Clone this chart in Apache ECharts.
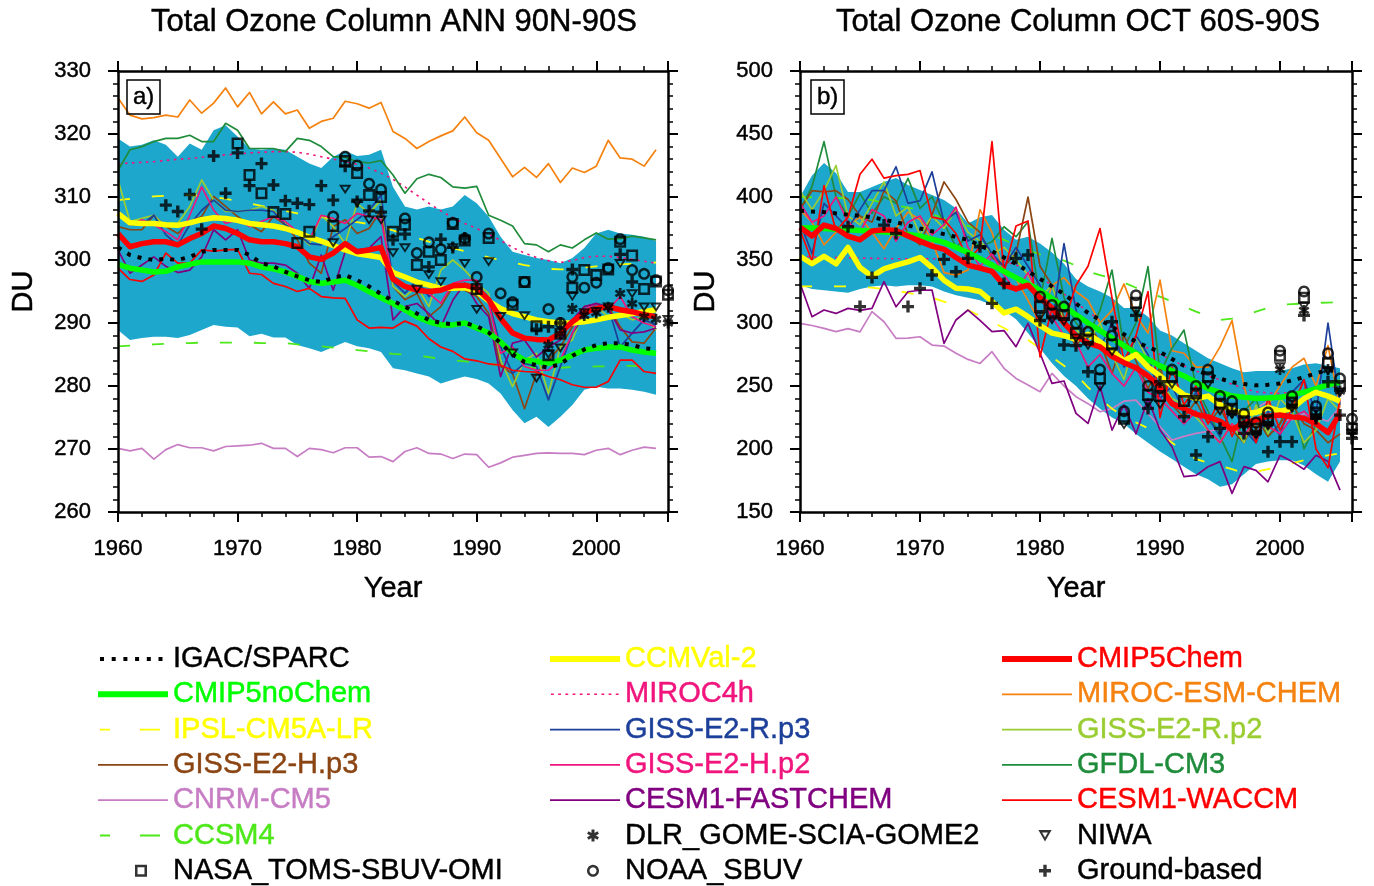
<!DOCTYPE html>
<html><head><meta charset="utf-8">
<script src="https://cdn.jsdelivr.net/npm/echarts@6/dist/echarts.min.js"></script>
<style>html,body{margin:0;padding:0;background:#fff}#c{width:1374px;height:886px}</style>
</head><body><div id="c"></div>
<script>
// ---------------- DATA ----------------
const years = [1960,1961,1962,1963,1964,1965,1966,1967,1968,1969,1970,1971,1972,1973,1974,1975,1976,1977,1978,1979,1980,1981,1982,1983,1984,1985,1986,1987,1988,1989,1990,1991,1992,1993,1994,1995,1996,1997,1998,1999,2000,2001,2002,2003,2004,2005];

// Panel a) ANN 90N-90S
const A_upper = [319.3,318.0,318.3,319.0,318.3,316.4,318.5,317.5,320.6,321.4,319.6,317.7,317.5,317.7,317.5,316.4,315.3,314.6,316.4,317.3,316.5,316.7,317.5,311.6,308.5,308.0,308.5,308.0,308.5,310.3,309.0,306.9,303.7,301.3,300.8,300.3,300.0,299.5,300.3,301.9,304.2,304.8,304.2,304.0,303.7,303.0];
const A_lower = [288.9,287.3,287.6,287.8,287.8,287.6,288.1,288.9,289.7,289.4,289.3,287.9,288.3,287.7,287.7,286.5,286.0,285.4,286.2,287.0,286.3,286.0,285.4,282.8,282.5,282.0,281.5,280.4,281.0,281.5,281.1,280.4,278.8,276.2,274.1,275.1,273.5,275.1,277.0,279.4,279.9,279.6,279.6,279.4,279.1,278.6];
const A_chem = [304.2,302.1,302.6,302.9,302.9,302.4,303.4,304.2,305.4,305.0,304.2,303.2,302.9,302.9,302.6,302.1,300.5,300.1,301.1,302.6,301.3,301.6,302.0,297.0,295.8,295.2,295.0,295.2,295.9,296.0,295.5,293.7,290.7,288.4,287.6,287.4,287.3,288.4,290.2,291.6,292.3,292.6,292.1,291.8,291.3,291.0];
const A_ccmval = [307.4,305.9,305.8,305.8,305.6,305.5,305.9,306.4,306.7,306.6,306.3,305.8,305.6,305.4,305.0,304.4,303.6,303.0,302.3,301.6,301.0,300.7,300.4,298.0,297.3,296.5,296.0,295.5,295.5,295.6,295.0,293.5,292.3,291.5,291.0,290.5,290.2,290.0,290.0,290.2,290.5,290.9,291.2,291.5,291.8,292.1];
const A_nochem = [299.3,298.7,298.4,298.1,298.2,298.9,299.3,299.7,299.7,299.7,299.7,299.5,298.9,298.6,298.1,297.4,296.6,296.3,296.5,296.8,296.0,295.0,294.0,293.1,292.1,291.0,290.2,289.7,289.7,290.0,289.2,288.4,287.0,285.2,284.1,283.9,283.6,284.1,284.9,285.7,286.0,286.2,286.2,285.7,285.4,285.2];
const A_igac = [302.0,300.8,300.3,300.0,300.2,300.0,300.5,301.3,301.6,301.6,301.6,300.8,299.5,299.0,298.1,297.4,296.8,296.5,297.2,297.6,296.8,295.8,294.6,293.5,292.6,291.5,290.5,290.0,289.8,290.0,289.5,288.5,286.8,285.0,283.8,283.3,282.9,283.5,284.8,285.8,286.5,286.8,286.8,286.5,286.0,285.8];
const A_miroc4h = [315.3,315.4,315.5,315.6,315.8,316.0,316.1,316.3,316.5,316.7,316.8,317.0,317.1,317.2,317.2,317.1,316.8,316.4,316.0,315.6,315.2,314.6,313.8,312.8,311.6,310.3,309.0,307.8,306.7,305.8,305.0,304.1,303.1,302.0,301.1,300.4,299.9,299.6,299.9,300.4,300.6,300.6,300.4,300.1,299.8,299.5];
const A_mirocesm = [325.7,323.0,322.4,322.6,323.0,322.7,325.4,323.3,324.9,327.3,324.3,326.6,323.2,325.1,323.2,323.8,320.9,322.0,322.5,325.2,324.8,324.1,325.0,320.4,319.3,317.7,318.8,319.7,320.5,322.7,320.2,319.0,316.1,313.2,314.7,313.1,315.3,312.3,314.6,313.9,314.9,319.0,316.2,316.0,314.9,317.5];
const A_gfdl = [314.2,317.5,318.0,318.8,319.3,319.3,319.8,318.8,318.8,321.7,320.6,317.7,317.7,317.7,317.2,319.3,319.0,318.0,316.4,316.3,315.6,315.4,315.8,313.5,310.6,312.9,313.6,313.1,311.6,311.4,311.7,307.1,306.3,305.4,302.6,302.4,301.3,302.4,301.9,303.2,304.3,303.3,303.4,303.8,303.5,303.2];
const A_cnrm = [270.1,269.7,270.1,268.4,269.9,270.7,270.2,270.2,269.7,270.4,270.5,270.6,270.9,270.1,270.1,268.8,270.1,269.9,269.4,270.2,270.2,268.7,268.8,268.0,269.6,270.2,269.3,269.2,268.5,269.2,269.1,267.1,267.8,268.7,269.0,269.3,269.4,269.3,269.3,269.1,269.8,270.1,269.1,269.8,270.3,270.1];
const A_ccsm4 = [286.3,286.4,286.5,286.6,286.7,286.8,286.8,286.9,286.9,286.9,286.9,286.9,286.8,286.8,286.8,286.6,286.5,286.3,286.1,285.9,285.7,285.5,285.3,285.1,285.0,284.8,284.6,284.3,284.1,283.9,283.7,283.5,283.3,283.1,283.0,282.9,282.8,282.9,283.0,283.0,283.1,283.1,283.2,283.2,283.1,283.1];
const A_ipsl = [309.5,309.7,309.9,310.1,310.2,310.3,310.3,310.2,310.0,309.7,309.4,309.0,308.6,308.2,307.8,307.4,307.1,306.8,306.5,306.2,306.0,305.7,305.2,304.7,304.1,303.5,302.9,302.4,301.9,301.4,300.9,300.4,300.0,299.6,299.2,298.9,298.6,298.5,298.6,298.8,299.0,299.2,299.3,299.4,299.5,299.6];
const A_gissRp3 = [307.9,305.6,305.6,307.1,304.0,302.4,305.6,307.9,309.5,307.9,307.7,307.9,307.9,307.7,305.6,304.2,302.6,302.4,303.7,305.0,306.4,307.9,310.3,296.6,294.7,296.8,294.2,295.8,295.2,296.3,294.7,293.6,286.2,282.0,283.6,283.1,277.8,283.1,288.4,291.0,293.1,292.6,286.2,288.4,290.5,289.7];
const A_gissRp2 = [312.7,306.1,306.6,307.1,305.3,305.8,308.5,312.7,309.5,307.7,307.7,307.9,308.5,307.9,305.8,304.2,302.4,307.1,305.3,302.6,309.0,307.4,309.5,295.8,294.2,295.8,292.6,298.4,300.0,298.4,296.3,294.7,284.1,279.9,284.1,285.2,278.8,286.2,287.3,292.1,292.6,291.0,291.5,290.5,291.0,288.9];
const A_gissHp3 = [305.3,304.8,304.8,307.1,305.3,304.2,306.1,306.9,310.1,308.5,306.9,305.6,304.5,306.9,305.6,303.2,299.5,297.9,305.3,306.4,304.2,305.0,307.9,295.8,293.7,294.7,291.0,292.6,295.8,295.2,294.2,291.5,283.1,282.0,276.4,282.0,284.1,286.2,289.4,292.6,293.1,292.6,289.4,287.0,286.8,289.2];
const A_gissHp2 = [307.4,305.6,306.4,305.6,304.5,303.2,307.1,311.6,307.9,305.8,306.4,305.3,306.1,306.9,306.1,304.5,303.2,307.1,306.6,305.8,307.4,306.9,306.4,296.8,295.8,295.8,294.7,293.1,296.3,296.8,296.8,293.1,285.2,286.2,283.1,282.5,282.5,284.1,288.4,292.1,293.1,292.1,294.2,291.0,290.0,289.4];
const A_fastchem = [301.6,297.9,299.2,300.5,299.0,298.0,298.4,300.5,304.8,303.2,304.8,300.0,299.5,299.5,299.2,297.9,295.5,300.8,295.2,301.3,301.6,301.9,303.7,290.5,292.6,293.1,291.5,289.4,293.6,296.3,293.1,291.0,281.5,286.8,287.3,284.6,286.2,287.3,290.5,292.6,293.1,292.3,288.9,288.4,288.6,289.2];
const A_waccm = [298.7,296.9,296.6,297.6,301.1,299.5,299.5,301.6,301.4,301.6,301.7,297.9,297.7,296.3,295.8,295.0,295.5,294.2,294.0,293.9,290.5,289.2,289.3,289.2,290.3,289.5,287.5,286.2,285.5,284.3,284.0,283.5,283.3,282.5,282.3,282.2,281.5,281.0,280.2,279.8,279.8,280.7,284.1,284.1,282.3,282.0];
// observations a) [year, DU]
const A_nasa = [[1970,318.5],[1971,313.5],[1972,310.6],[1973,307.6],[1974,307.3],[1975,302.7],[1976,304.5],[1978,305.4],[1979,315.7],[1980,313.8],[1981,310.3],[1982,310.0],[1983,304.5],[1984,305.6],[1985,299.2],[1986,301.3],[1987,300.0],[1988,305.7],[1989,303.1],[1990,295.4],[1991,303.5],[1993,292.9],[1994,296.5],[1995,289.5],[1996,284.9],[1997,288.3],[1998,295.6],[1999,298.4],[2000,297.6],[2001,298.5],[2002,302.9],[2003,300.7],[2004,295.4],[2005,296.6],[2006,294.5]];
const A_noaa = [[1978,306.9],[1979,316.4],[1980,315.0],[1981,312.1],[1982,311.2],[1984,306.6],[1985,301.1],[1986,302.8],[1987,301.7],[1988,305.9],[1989,303.4],[1990,297.3],[1991,304.2],[1992,294.7],[1993,293.3],[1994,296.5],[1996,292.2],[1997,290.0],[1998,297.3],[1999,295.6],[2000,296.4],[2001,298.7],[2002,303.3],[2003,298.4],[2004,297.8],[2005,296.8],[2006,295.2]];
const A_niwa = [[1978,302.7],[1979,311.2],[1980,309.0],[1981,306.3],[1982,306.3],[1983,301.1],[1984,301.9],[1985,295.3],[1986,297.6],[1987,296.5],[1988,301.9],[1989,299.4],[1990,292.1],[1991,299.7],[1992,291.0],[1993,285.2],[1994,291.1],[1995,281.2],[1996,285.0],[1997,286.0],[1998,294.2],[1999,291.6],[2000,291.8],[2001,292.5],[2002,299.4],[2003,294.6],[2004,292.5],[2005,292.5],[2006,290.5]];
const A_ground = [[1964,308.7],[1965,307.7],[1966,310.4],[1967,304.9],[1968,316.5],[1969,310.6],[1970,317.0],[1971,311.8],[1972,315.3],[1973,311.9],[1974,309.4],[1975,309.0],[1976,308.8],[1977,311.8],[1978,309.5],[1979,314.9],[1980,309.3],[1981,307.8],[1982,307.6],[1983,303.2],[1984,304.1],[1986,298.9],[1987,303.3],[1988,302.0],[1989,303.5],[1990,295.5],[1995,289.0],[1996,289.4],[1997,290.0],[1998,298.5],[2002,300.9],[2003,296.5]];
const A_dlr = [[1996,286.5],[1997,288.3],[1998,292.3],[1999,291.2],[2000,291.6],[2001,292.5],[2002,294.7],[2003,293.1],[2004,291.0],[2005,290.6],[2006,290.0]];

// Panel b) OCT 60S-90S
const B_upper = [400,417,427,419,404,404,408,412,415,409.5,405.5,401.6,397.6,391,379,384,385.7,374,366,368.5,363,356,347,335,329,325,320,312,312,305,294,290,284,278,272,268,264,261,262,262,262,264,267,268,266,264];
const B_lower = [330,327,326,325,324,327,329,330,329,330,330,329,325,322,320,318,314,310,303,292,280,268,258,250,240,232,225,220,212,205,198,192,186,180,176,170,172,180,188,190,191,191,187,180,174,190];
const B_chem = [376,369,377.7,375,369,366,373,374,373.5,369,365,361,358.5,352,346,343.5,341,330,327,330,320,312,300,290,284,281,273.5,268.5,264.5,258,249,236,232,227.5,225.5,222,215.5,220.5,223,226,227,225.5,224.5,220,213,228];
const B_ccmval = [353,347,353,347,360,344,337,343,346,348.5,352,344,334,327.5,327,325,317,308,311,305,298,292,290,287,291,285,278,270,275,265,258,250,243,240,242,235,231,228,229,233,230,232,240,245,242,238];
const B_nochem = [375.5,375.3,375,374.5,374,373.5,373,372.3,371.5,370.3,369,366.5,364,360,356,351,346,341,336,331,326,319.5,313,306.5,300,294,288,282,276,271,266,262,258,253,248,245,242,241,240,240.5,241,243,245,248,251,253];
const B_igac = [389,388.5,388,387,386,385,384,382,380,377.5,375,372.8,370.5,368.3,366,361.5,357,352,347,341,335,329,323,315.5,308,302.5,297,291,285,281,277,271.5,266,262.5,259,256,253,251.5,250.5,251,252,254.5,257,260,263,262];
const B_miroc4h = [353,352.5,352,352,351.8,351.5,351.3,351.2,351,351,351,351,351,351,351,351,350.5,349,346,342,336,330,323,316,309,302,296,290,285,280,275,270.5,266,262,258,255,251.5,248,245.5,244.5,244,245,246.5,248,249,250];
const B_ipsl = [329,329,329,329,329,328.8,328,327,325.5,324,322.2,320,317,313.5,310.3,305.5,301,296,291,286.5,280,273,266,259,249,240,232,226,221,216.5,212.4,205,198,192,189,186.5,184,181,182,184,186,188.5,191,193.5,195,196.5];
const B_ccsm4 = [400,399.8,399.5,399.2,399,398.9,397.5,395.5,393.5,391.5,389.7,386.5,383,380,377,373.8,370,366,362,358,354.5,352,349.5,345.5,341,338,335.5,332,328,324,320.9,317,313,309,305.5,302.4,303.5,306,309,312,314.3,315,315.5,316,316.2,316.5];
const B_cnrm = [299.7,298,295.7,293.1,295.5,293,309,301,287.8,288,289.1,282.5,281.7,276,271.1,267.9,277.2,264,256,250.8,245.5,260,250,241.5,236,229.6,232,238,238.8,228,217.7,207,210,212.4,214,216,216,222,232.2,238,223,223,228,225,222,233.5];
const B_fastchem = [331.5,305,310.3,307.6,311.6,310,311.6,332.8,312.9,324.8,326,326.2,283.8,302.4,310.3,302,293.1,294,281.2,299.7,276,252.1,254,228.3,220.3,250,215,235,212,240,215,201.8,178,179,185.9,190,164.8,186,183,174,195,190,184,195,190,167.4];
const B_waccm = [374,349,409,373,384,418,430,415,417,418,421,384,382,371,350,360,444,340,377,381,273,312,300,330,345,375,320,270,290,325,225,265,235,250,220,240,210,230,205,240,215,232,255,200,185,240];
const B_gfdl = [389.7,408.2,443.9,400.2,384.4,402.9,387,400.2,395,414.8,391,400.2,379.1,360.5,368.5,360.5,364.5,376.4,368.5,380.4,318.2,367.2,320,300,290,310,342,280,300,344.7,260,280,294.4,250,230,210,190,230,240,210,220,245,200,220,215,230];
const B_gissRp3 = [380,355,395,385,375,390,405,405,424,395,397,420,380,388,365,370,355,345,360,345,330,300,363,310,285,280,300,265,290,275,240,250,230,245,225,210,235,215,205,230,210,245,255,228,300,235];
const B_gissRp2 = [405,390,405,425,385,378,395,412,385,392,370,385,375,390,372,365,355,360,350,338,320,330,300,295,285,300,275,255,290,270,255,240,235,225,215,205,220,205,235,212,240,230,205,215,240,230];
const B_gissHp3 = [390,405,404,405,398,385,380,405,397,370,362,386,412,398,380,372,352,345,355,400,345,330,305,280,300,285,260,290,270,248,265,235,225,238,220,232,215,205,225,210,220,236,220,215,205,212];
const B_gissHp2 = [395,380,385,400,380,372,390,385,365,380,385,370,378,392,360,345,355,338,325,340,320,305,290,285,265,275,260,250,265,245,240,230,220,230,215,205,220,210,225,218,212,225,230,220,215,225];
const B_mirocesm = [390,380,362,372,378,384,372,359,375,388,382,365,340,338,342,390,372,340,335,318,300,330,336,325,318,300,310,331,306,292,334,278,276,265,265,281,302,250,215,235,250,265,272,250,282,233];
// observations b) [year, DU]
const B_nasa = [[1980,313],[1981,307.6],[1982,306.3],[1983,291.8],[1984,287],[1985,256],[1986,283],[1987,224],[1988,316],[1989,243],[1990,242],[1991,257],[1992,238],[1993,244],[1994,257],[1995,236],[1996,232],[1997,222],[1998,216],[1999,223],[2000,274],[2001,237],[2002,320],[2003,229],[2004,268],[2005,250],[2006,216]];
const B_noaa = [[1980,321],[1981,314.3],[1982,313],[1983,299.7],[1984,293],[1985,263],[1986,290],[1987,230],[1988,322],[1989,250],[1990,248],[1991,263],[1993,250],[1994,263],[1995,242],[1996,238],[1997,228],[1998,221],[1999,229],[2000,278],[2001,242],[2002,325],[2003,234],[2004,276],[2005,256],[2006,224]];
const B_niwa = [[1980,305],[1981,302.4],[1982,301],[1983,287.8],[1984,282],[1985,249],[1986,277],[1987,219],[1988,309],[1989,236],[1990,235],[1991,251],[1993,239],[1994,251],[1995,230],[1996,227],[1997,218],[1998,211],[1999,218],[2000,265],[2001,232],[2002,313],[2003,224],[2004,262],[2005,245],[2006,212]];
const B_ground = [[1964,376.4],[1965,313],[1966,336.2],[1967,377.7],[1968,371.1],[1969,313],[1970,327.5],[1971,338.1],[1972,350.5],[1973,340.7],[1974,351.3],[1975,360.5],[1976,315.6],[1977,331.4],[1978,351.3],[1979,354],[1980,302],[1982,282.5],[1983,282],[1984,261.3],[1986,301],[1988,306],[1989,232.2],[1990,253.4],[1992,225.6],[1993,195.2],[1994,209.7],[1995,216.4],[1997,212.4],[1999,197.8],[2000,205.8],[2001,205.8],[2002,306],[2003,224.3],[2004,253.4],[2005,226.9],[2006,208.4]];
const B_dlr = [[1996,229],[1997,219],[1998,213],[1999,220],[2000,263],[2001,234],[2002,310],[2003,226],[2004,263],[2005,246],[2006,214]];

// ---------------- STYLE ----------------
const FF = '"Liberation Sans", Arial, Helvetica, sans-serif';
const BAND = '#1ea7cc';
const TB = 0.45; // slight text stroke to mimic the heavier Helvetica rendering
const ST = {
  'IGAC/SPARC':      {c:'#000000', w:4,   d:[4,7],   icon:'dots'},
  'CMIP5noChem':     {c:'#00ff00', w:5.5, icon:'thick'},
  'CCMVal-2':        {c:'#ffff00', w:5.5, icon:'thick'},
  'CMIP5Chem':       {c:'#ff0000', w:5.5, icon:'thick'},
  'IPSL-CM5A-LR':    {c:'#ffff00', w:1.8, d:[12,22], icon:'dash'},
  'GISS-E2-H.p3':    {c:'#8b4513', w:1.7, icon:'thin'},
  'CNRM-CM5':        {c:'#c77dc4', w:1.7, icon:'thin'},
  'CCSM4':           {c:'#4ee81a', w:1.8, d:[12,22], icon:'dash'},
  'MIROC4h':         {c:'#f0147c', w:1.6, d:[2.5,4.5], icon:'fine'},
  'GISS-E2-R.p3':    {c:'#1c3f9a', w:1.7, icon:'thin'},
  'GISS-E2-H.p2':    {c:'#f0147c', w:1.7, icon:'thin'},
  'CESM1-FASTCHEM':  {c:'#800080', w:1.7, icon:'thin'},
  'MIROC-ESM-CHEM':  {c:'#f5820f', w:1.7, icon:'thin'},
  'GISS-E2-R.p2':    {c:'#9acd32', w:1.7, icon:'thin'},
  'GFDL-CM3':        {c:'#1f8c3b', w:1.7, icon:'thin'},
  'CESM1-WACCM':     {c:'#ff0000', w:1.7, icon:'thin'},
  'NASA_TOMS-SBUV-OMI': {c:'#000000', mark:'square'},
  'DLR_GOME-SCIA-GOME2':{c:'#000000', mark:'star'},
  'NOAA_SBUV':          {c:'#000000', mark:'circle'},
  'NIWA':               {c:'#000000', mark:'tri'},
  'Ground-based':       {c:'#000000', mark:'plus'}
};

function poly(pts, dx, dy, k){ k = k || 1; return 'M' + pts.map(p => (p[0]*k+dx).toFixed(2) + ',' + (p[1]*k+dy).toFixed(2)).join(' L') + ' Z'; }
function ngon(r, n, rev){ const o=[]; for(let i=0;i<n;i++){ const a=(rev?-1:1)*2*Math.PI*i/n; o.push([r*Math.cos(a), r*Math.sin(a)]); } return o; }
function bar(deg, L, W){ const a=deg*Math.PI/180, c=Math.cos(a), s=Math.sin(a), nx=-s, ny=c;
  return [[-L*c-W*nx,-L*s-W*ny],[L*c-W*nx,L*s-W*ny],[L*c+W*nx,L*s+W*ny],[-L*c+W*nx,-L*s+W*ny]]; }
const MARK = {
  square: [[[-5,-5],[5,-5],[5,5],[-5,5]], [[-2.9,-2.9],[-2.9,2.9],[2.9,2.9],[2.9,-2.9]]],
  circle: [ngon(5,28,false), ngon(2.9,28,true)],
  tri:    [[[-5.5,-4.5],[5.5,-4.5],[0,5]], [[-2.4,-2.5],[0,1.6],[2.4,-2.5]]],
  plus:   [[[-1.4,-5],[1.4,-5],[1.4,-1.4],[5,-1.4],[5,1.4],[1.4,1.4],[1.4,5],[-1.4,5],[-1.4,1.4],[-5,1.4],[-5,-1.4],[-1.4,-1.4]]],
  star:   [bar(90,5,1.25), bar(30,5,1.25), bar(150,5,1.25)]
};
function markPath(key, dx, dy, k){ return MARK[key].map(p => poly(p, dx, dy, k)).join(' '); }
function rectP(x0,y0,x1,y1){ return poly([[x0,y0],[x1,y0],[x1,y1],[x0,y1]],0,0); }
const PAD = 'M0,0 M70,14 ';
const ICON = {
  thick: PAD + rectP(0,4,70,10),
  thin:  PAD + rectP(0,6.1,70,7.9),
  dots:  PAD + [0,1,2,3,4,5].map(i => rectP(2+i*11.7,5,6+i*11.7,9)).join(' '),
  fine:  PAD + [0,1,2,3,4,5,6,7,8,9].map(i => rectP(1+i*7.2,6.2,3.8+i*7.2,7.8)).join(' '),
  dash:  PAD + rectP(2,6.1,12,7.9) + ' ' + rectP(42,6.1,62,7.9)
};
function iconFor(name){ const s=ST[name]; return 'path://' + (s.mark ? PAD + markPath(s.mark, 43, 7, 1.2) : ICON[s.icon]); }

// ---------------- SERIES ----------------
function lineS(panel, name, vals, z){
  const s = ST[name];
  return {type:'line', name, xAxisIndex:panel*2, yAxisIndex:panel*2, z,
    data: years.map((y,i) => [y, vals[i]]), symbol:'none', silent:true,
    lineStyle:{color:s.c, width:s.w, type: s.d || 'solid', cap:'butt', join:'round'},
    itemStyle:{color:s.c}, emphasis:{disabled:true}};
}
// model spread band drawn as one polygon through the axis scales
function bandS(panel, lo, hi){
  return {type:'custom', xAxisIndex:panel*2, yAxisIndex:panel*2, z:1, silent:true,
    data:[[years[0], lo[0]]],
    renderItem: function(params, api){
      const pts = [];
      for (let i = 0; i < years.length; i++) pts.push(api.coord([years[i], hi[i]]));
      for (let i = years.length - 1; i >= 0; i--) pts.push(api.coord([years[i], lo[i]]));
      return {type:'polygon', shape:{points:pts}, style:{fill:BAND}};
    }};
}
function scatS(panel, name, pts){
  const s = ST[name];
  const sz = s.mark === 'tri' ? [12.5, 11] : (s.mark === 'star' ? 11 : 12);
  return {type:'scatter', name, xAxisIndex:panel*2, yAxisIndex:panel*2, z:6, clip:false,
    data: pts, symbol:'path://' + markPath(s.mark,0,0,1), symbolSize: sz, symbolKeepAspect:true,
    itemStyle:{color:'#000'}, silent:true, emphasis:{disabled:true}};
}
function panelSeries(p, D){
  const out = [bandS(p, D.lower, D.upper)];
  const thin = [['CNRM-CM5',D.cnrm],['CCSM4',D.ccsm4],['IPSL-CM5A-LR',D.ipsl],['MIROC4h',D.miroc4h],
    ['MIROC-ESM-CHEM',D.mirocesm],['GFDL-CM3',D.gfdl],['GISS-E2-H.p3',D.gissHp3],['GISS-E2-R.p2',D.gissRp2],
    ['GISS-E2-R.p3',D.gissRp3],['GISS-E2-H.p2',D.gissHp2],['CESM1-FASTCHEM',D.fastchem],['CESM1-WACCM',D.waccm]];
  thin.forEach(t => out.push(lineS(p, t[0], t[1], 3)));
  [['CMIP5noChem',D.nochem],['CCMVal-2',D.ccmval],['CMIP5Chem',D.chem],['IGAC/SPARC',D.igac]]
    .forEach(t => out.push(lineS(p, t[0], t[1], 4)));
  [['NASA_TOMS-SBUV-OMI',D.nasa],['NOAA_SBUV',D.noaa],['NIWA',D.niwa],['Ground-based',D.ground],['DLR_GOME-SCIA-GOME2',D.dlr]]
    .forEach(t => out.push(scatS(p, t[0], t[1])));
  return out;
}
const series = [].concat(
  panelSeries(0, {upper:A_upper, lower:A_lower, chem:A_chem, ccmval:A_ccmval, nochem:A_nochem, igac:A_igac,
    miroc4h:A_miroc4h, mirocesm:A_mirocesm, gfdl:A_gfdl, cnrm:A_cnrm, ccsm4:A_ccsm4, ipsl:A_ipsl,
    gissRp3:A_gissRp3, gissRp2:A_gissRp2, gissHp3:A_gissHp3, gissHp2:A_gissHp2, fastchem:A_fastchem, waccm:A_waccm,
    nasa:A_nasa, noaa:A_noaa, niwa:A_niwa, ground:A_ground, dlr:A_dlr}),
  panelSeries(1, {upper:B_upper, lower:B_lower, chem:B_chem, ccmval:B_ccmval, nochem:B_nochem, igac:B_igac,
    miroc4h:B_miroc4h, mirocesm:B_mirocesm, gfdl:B_gfdl, cnrm:B_cnrm, ccsm4:B_ccsm4, ipsl:B_ipsl,
    gissRp3:B_gissRp3, gissRp2:B_gissRp2, gissHp3:B_gissHp3, gissHp2:B_gissHp2, fastchem:B_fastchem, waccm:B_waccm,
    nasa:B_nasa, noaa:B_noaa, niwa:B_niwa, ground:B_ground, dlr:B_dlr})
);

// ---------------- AXES ----------------
const axLine = {show:true, onZero:false, lineStyle:{color:'#000', width:2.5}};
const tick = {show:true, inside:false, length:10, lineStyle:{color:'#000', width:2}};
const minor = {show:true, splitNumber:5, length:5, lineStyle:{color:'#000', width:1.5}};
const txt = (size) => ({color:'#000', fontSize:size, fontFamily:FF, textBorderColor:'#000', textBorderWidth:TB});
function xAx(grid, pos, labels){
  return {type:'value', gridIndex:grid, position:pos, min:1960, max:2006, interval:10, z:10,
    axisLine:axLine, axisTick:tick, minorTick:minor, splitLine:{show:false},
    axisLabel:Object.assign({show:labels, margin:26, formatter: v => (v % 10 === 0 ? String(v) : '')}, txt(22)),
    name: labels ? 'Year' : '', nameLocation:'middle', nameGap:62, nameTextStyle:txt(29)};
}
function yAx(grid, pos, labels, min, max, iv){
  return {type:'value', gridIndex:grid, position:pos, min, max, interval:iv, z:10,
    axisLine:axLine, axisTick:tick, minorTick:minor, splitLine:{show:false},
    axisLabel:Object.assign({show:labels, margin:27}, txt(22)),
    name: labels ? 'DU' : '', nameLocation:'middle', nameGap:80, nameRotate:90, nameTextStyle:txt(29)};
}

// ---------------- LEGEND ----------------
const legendCols = [
  ['IGAC/SPARC','CMIP5noChem','IPSL-CM5A-LR','GISS-E2-H.p3','CNRM-CM5','CCSM4','NASA_TOMS-SBUV-OMI'],
  ['CCMVal-2','MIROC4h','GISS-E2-R.p3','GISS-E2-H.p2','CESM1-FASTCHEM','DLR_GOME-SCIA-GOME2','NOAA_SBUV'],
  ['CMIP5Chem','MIROC-ESM-CHEM','GISS-E2-R.p2','GFDL-CM3','CESM1-WACCM','NIWA','Ground-based']
];
const legendLeft = [98, 550, 1002];
const legend = legendCols.map((col, ci) => ({
  orient:'vertical', left:legendLeft[ci], top:644, padding:0, itemGap:5.3,
  itemWidth:70, itemHeight:14, selectedMode:false, itemStyle:{borderWidth:0},
  textStyle:{fontSize:29, fontFamily:FF, lineHeight:30},
  data: col.map(n => ({name:n, icon:iconFor(n),
    textStyle:{color:ST[n].c, textBorderColor:ST[n].c, textBorderWidth:TB}}))
}));

const titleTxt = Object.assign({fontWeight:'normal'}, txt(31));
const option = {
  backgroundColor:'#ffffff', animation:false,
  title: [
    {text:'Total Ozone Column ANN 90N-90S', left:394, top:7, textAlign:'center', padding:0, textStyle:titleTxt},
    {text:'Total Ozone Column OCT 60S-90S', left:1078, top:7, textAlign:'center', padding:0, textStyle:titleTxt},
    {text:'a)', left:127, top:80, padding:[5,6,5,6], borderColor:'#000', borderWidth:1.5,
      textStyle:Object.assign({fontWeight:'normal'}, txt(24))},
    {text:'b)', left:811, top:80, padding:[5,6,5,6], borderColor:'#000', borderWidth:1.5,
      textStyle:Object.assign({fontWeight:'normal'}, txt(24))}
  ],
  grid: [
    {left:118, top:71, width:550, height:441, containLabel:false},
    {left:800, top:71, width:552, height:441, containLabel:false}
  ],
  xAxis: [xAx(0,'bottom',true), xAx(0,'top',false), xAx(1,'bottom',true), xAx(1,'top',false)],
  yAxis: [yAx(0,'left',true,260,330,10), yAx(0,'right',false,260,330,10),
          yAx(1,'left',true,150,500,50), yAx(1,'right',false,150,500,50)],
  legend,
  series
};
const chart = echarts.init(document.getElementById('c'), null, {renderer:'canvas'});
chart.setOption(option);
</script>
</body></html>
